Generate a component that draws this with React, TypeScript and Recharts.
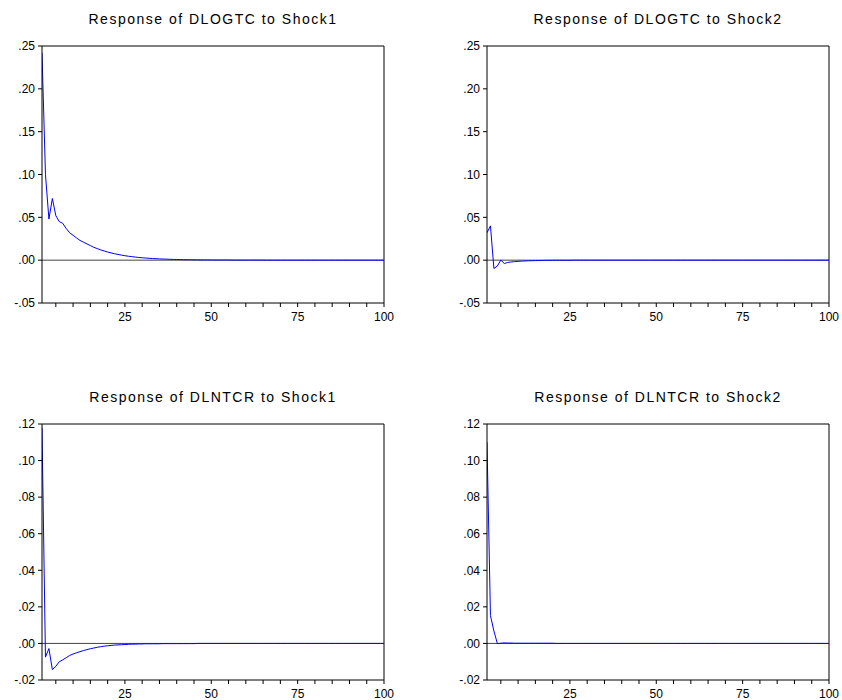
import React from "react";
import { LineChart, Line, XAxis, YAxis, ReferenceLine } from "recharts";

// Impulse-response horizon (periods 1..100)
const periods: number[] = Array.from({ length: 100 }, (_, i) => i + 1);

// Response of DLOGTC to Shock1
const dlogtcShock1: number[] = [
  0.242, 0.100, 0.048, 0.072, 0.052, 0.045, 0.043, 0.037, 0.032, 0.029,
  0.026, 0.023, 0.021, 0.019, 0.017, 0.015, 0.0135, 0.012, 0.0107, 0.0095,
  0.0085, 0.0075, 0.0067, 0.0059, 0.0052, 0.0046, 0.0041, 0.0036, 0.0032, 0.0028,
  0.0025, 0.0022, 0.0019, 0.0017, 0.0015, 0.0013, 0.0012, 0.0010, 0.0009, 0.0008,
  0.0007, 0.0006, 0.0005, 0.0005, 0.0004, 0.0004, 0.0003, 0.0003, 0.0003, 0.0002,
  0.0002, 0.0002, 0.0002, 0.0002, 0.0002, 0.0001, 0.0001, 0.0001, 0.0001, 0.0001,
  0.0001, 0.0001, 0.0001, 0.0001, 0.0001, 0, 0, 0, 0, 0,
  0, 0, 0, 0, 0, 0, 0, 0, 0, 0,
  0, 0, 0, 0, 0, 0, 0, 0, 0, 0,
  0, 0, 0, 0, 0, 0, 0, 0, 0, 0,
];

// Response of DLOGTC to Shock2
const dlogtcShock2: number[] = [
  0.032, 0.040, -0.0097, -0.0068, 0.0001, -0.0039, -0.0027, -0.0021, -0.0017, -0.0014,
  -0.0011, -0.0009, -0.0007, -0.0006, -0.0005, -0.0004, -0.0003, -0.0002, -0.0002, -0.0001,
  -0.0001, -0.0001, -0.0001, -0.0001, -0.0001, 0, 0, 0, 0, 0,
  0, 0, 0, 0, 0, 0, 0, 0, 0, 0,
  0, 0, 0, 0, 0, 0, 0, 0, 0, 0,
  0, 0, 0, 0, 0, 0, 0, 0, 0, 0,
  0, 0, 0, 0, 0, 0, 0, 0, 0, 0,
  0, 0, 0, 0, 0, 0, 0, 0, 0, 0,
  0, 0, 0, 0, 0, 0, 0, 0, 0, 0,
  0, 0, 0, 0, 0, 0, 0, 0, 0, 0,
];

// Response of DLNTCR to Shock1
const dlntcrShock1: number[] = [
  0.118, -0.0075, -0.0028, -0.0143, -0.0125, -0.0100, -0.0090, -0.0078, -0.0066, -0.0058,
  -0.0051, -0.0045, -0.0039, -0.0034, -0.0029, -0.0025, -0.0021, -0.0018, -0.0015, -0.0013,
  -0.0011, -0.0009, -0.0008, -0.0007, -0.0006, -0.0005, -0.0004, -0.0004, -0.0003, -0.0003,
  -0.0002, -0.0002, -0.0002, -0.0002, -0.0002, -0.0001, -0.0001, -0.0001, -0.0001, -0.0001,
  -0.0001, -0.0001, -0.0001, -0.0001, -0.0001, 0, 0, 0, 0, 0,
  0, 0, 0, 0, 0, 0, 0, 0, 0, 0,
  0, 0, 0, 0, 0, 0, 0, 0, 0, 0,
  0, 0, 0, 0, 0, 0, 0, 0, 0, 0,
  0, 0, 0, 0, 0, 0, 0, 0, 0, 0,
  0, 0, 0, 0, 0, 0, 0, 0, 0, 0,
];

// Response of DLNTCR to Shock2
const dlntcrShock2: number[] = [
  0.110, 0.0152, 0.0068, -0.0001, 0.0001, 0.0003, 0.0002, 0.0002, 0.0001, 0.0001,
  0.0001, 0.0001, 0.0001, 0.0001, 0.0001, 0.0001, 0.0001, 0.0001, 0.0001, 0.0001,
  0, 0, 0, 0, 0, 0, 0, 0, 0, 0,
  0, 0, 0, 0, 0, 0, 0, 0, 0, 0,
  0, 0, 0, 0, 0, 0, 0, 0, 0, 0,
  0, 0, 0, 0, 0, 0, 0, 0, 0, 0,
  0, 0, 0, 0, 0, 0, 0, 0, 0, 0,
  0, 0, 0, 0, 0, 0, 0, 0, 0, 0,
  0, 0, 0, 0, 0, 0, 0, 0, 0, 0,
  0, 0, 0, 0, 0, 0, 0, 0, 0, 0,
];

// Axis ticks
const xTicks: number[] = [5, 10, 15, 20, 25, 30, 35, 40, 45, 50, 55, 60, 65, 70, 75, 80, 85, 90, 95, 100];
const xLabelled: number[] = [25, 50, 75, 100];
const yTicksGtc: number[] = [-0.05, 0, 0.05, 0.1, 0.15, 0.2, 0.25];
const yTicksNtcr: number[] = [-0.02, 0, 0.02, 0.04, 0.06, 0.08, 0.1, 0.12];

const FONT = '"Liberation Sans", Arial, Helvetica, sans-serif';
const YW = 40;
const XH = 30;
const PAD = 10;
const PLOT_W = 342;

const fmtY = (v: number) => {
  const s = Math.abs(v).toFixed(2).replace(/^0/, "");
  return v < 0 ? "-" + s : s;
};
const fmtX = (v: number) => (xLabelled.includes(v) ? String(v) : "");

type PanelProps = {
  left: number;
  top: number;
  plotH: number;
  title: string;
  values: number[];
  yTicks: number[];
};

function Panel({ left, top, plotH, title, values, yTicks }: PanelProps) {
  const data = periods.map((p, i) => ({ period: p, value: values[i] }));
  const yMin = yTicks[0];
  const yMax = yTicks[yTicks.length - 1];
  const tickStyle = { fontSize: 12, fill: "#000", fontFamily: FONT };
  return (
    <>
      <div
        style={{
          position: "absolute",
          left,
          top: top - 35,
          width: PLOT_W,
          textAlign: "center",
          fontFamily: FONT,
          fontSize: 14,
          lineHeight: "16px",
          letterSpacing: "1.5px",
          color: "#000",
          whiteSpace: "nowrap",
        }}
      >
        {title}
      </div>
      <div style={{ position: "absolute", left: left - YW, top: top - PAD }}>
        <LineChart
          width={YW + PLOT_W + PAD}
          height={PAD + plotH + XH}
          data={data}
          margin={{ top: PAD, right: PAD, bottom: 0, left: 0 }}
        >
          <XAxis
            dataKey="period"
            type="number"
            domain={[1, 100]}
            ticks={xTicks}
            tickFormatter={fmtX}
            interval={0}
            height={XH}
            tickSize={4}
            tickMargin={5}
            tick={tickStyle}
            stroke="#000"
            allowDataOverflow
          />
          <YAxis
            type="number"
            domain={[yMin, yMax]}
            ticks={yTicks}
            tickFormatter={fmtY}
            interval={0}
            width={YW}
            tickSize={4}
            tickMargin={3}
            tick={tickStyle}
            stroke="#000"
            allowDataOverflow
          />
          <ReferenceLine y={yMax} stroke="#000" />
          <ReferenceLine x={100} stroke="#000" />
          <ReferenceLine y={0} stroke="#444" />
          <Line
            type="linear"
            dataKey="value"
            stroke="#0000ff"
            strokeWidth={1}
            dot={false}
            isAnimationActive={false}
          />
        </LineChart>
      </div>
    </>
  );
}

export default function App() {
  return (
    <div
      style={{
        position: "absolute",
        left: 0,
        top: 0,
        width: 842,
        height: 700,
        background: "#fff",
        overflow: "hidden",
      }}
    >
      <Panel left={42} top={46} plotH={257} title="Response of DLOGTC to Shock1" values={dlogtcShock1} yTicks={yTicksGtc} />
      <Panel left={487} top={46} plotH={257} title="Response of DLOGTC to Shock2" values={dlogtcShock2} yTicks={yTicksGtc} />
      <Panel left={42} top={424} plotH={256} title="Response of DLNTCR to Shock1" values={dlntcrShock1} yTicks={yTicksNtcr} />
      <Panel left={487} top={424} plotH={256} title="Response of DLNTCR to Shock2" values={dlntcrShock2} yTicks={yTicksNtcr} />
    </div>
  );
}
